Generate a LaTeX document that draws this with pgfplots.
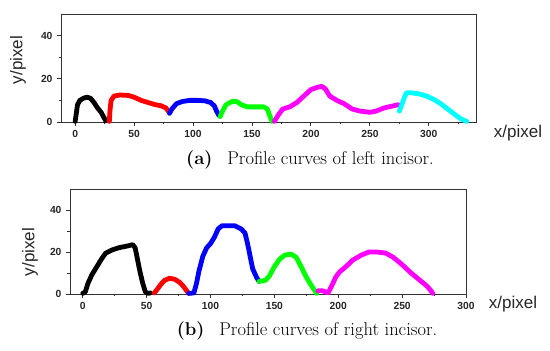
\documentclass[border=0pt]{standalone}
\usepackage{fontspec}
\usepackage{pgfplots}
\pgfplotsset{compat=1.18}
\newfontfamily\arialf{Liberation Sans}
\definecolor{axgray}{HTML}{333333}
\definecolor{cgreen}{HTML}{00FF00}
\definecolor{cmag}{HTML}{FF00FF}
\definecolor{ccyan}{HTML}{00FFFF}
\definecolor{cblue}{HTML}{0000FF}
\definecolor{cred}{HTML}{FF0000}
\pgfplotsset{
  prof/.style={
    scale only axis,
    anchor=south west,
    ymin=0, ymax=50,
    ytick={0,20,40},
    minor ytick={10,30},
    xtick={0,50,...,300},
    tick align=outside,
    xtick pos=bottom, ytick pos=left,
    major tick length=4pt, minor tick length=2.5pt,
    axis line style={axgray, line width=0.9pt},
    every tick/.style={axgray, line width=0.9pt},
    /pgf/number format/assume math mode=true,
    ticklabel style={font=\arialf\bfseries\fontsize{10.3}{11}\selectfont, text=black!85},
    xticklabel style={yshift=-0.5pt},
    yticklabel style={xshift=-1pt},
    clip=false,
  },
  curve/.style={line width=4.8pt, line join=round, line cap=round},
}
\begin{document}
\begin{tikzpicture}
\useasboundingbox (0,0) rectangle (550pt,351pt);
% ---------- top ----------
\begin{axis}[prof, at={(61pt,229pt)}, width=415pt, height=108pt,
  xmin=-12, xmax=340, minor xtick={25,75,...,325}]
\addplot[curve, black] coordinates {(0,0.3)(1,4)(2,8)(4,10)(7,11)(10,11.5)(13,11)(16,9)(19,6.5)(22,4.5)(24,2.5)(26,0.5)};
\addplot[curve, cred] coordinates {(29,0.3)(29.5,5)(30.5,10)(33,12)(38,12.5)(45,12.3)(50,11.5)(56,10)(62,9)(68,8)(73,7.5)(77,6.5)(79,5)};
\addplot[curve, cblue] coordinates {(80,4)(82,6)(86,8.5)(91,9.5)(97,10)(104,10)(110,9.8)(115,9)(118,7.5)(120,5)(122,3)};
\addplot[curve, cgreen] coordinates {(123,2.5)(125,5)(128,8)(133,9.5)(137,9.5)(141,8)(146,7)(152,7)(160,7)(163,6)(165,3)(167,0.3)};
\addplot[curve, cmag] coordinates {(169,0.3)(172,3)(176,6)(182,7)(188,9)(194,12)(200,15)(205,16)(209,16.5)(212,15.5)(216,12)(222,10)(228,8.5)(235,6)(242,5)(250,4.5)(255,5)(262,6.5)(270,7.5)(274,8)};
\addplot[curve, ccyan] coordinates {(275,5)(277,8)(279,11)(281,13.5)(285,13.5)(292,13)(298,12)(304,10.5)(310,8.5)(316,6)(322,3.5)(327,1.5)(332,0.3)};
\end{axis}
% ---------- bottom ----------
\begin{axis}[prof, at={(70pt,57pt)}, width=396pt, height=105pt,
  xmin=-10, xmax=300, minor xtick={25,75,...,275}]
\addplot[curve, black] coordinates {(0,0.3)(2,1)(4,5)(7,9)(11,13)(15,17)(18,19.5)(23,21)(28,22)(32,22.5)(36,23)(39,23.5)(41,22)(43,16)(45,10)(47,5)(49,1)(51,0.3)(53,0.5)};
\addplot[curve, cred] coordinates {(56,0.5)(58,2)(61,4.5)(64,6.5)(68,7.5)(72,7)(76,5.5)(79,3.5)(82,1)(83,0.3)};
\addplot[curve, cblue] coordinates {(83,0.3)(87,0.5)(89,5)(91,11)(94,18)(97,22)(100,24)(103,27)(106,31)(109,32.5)(114,32.5)(119,32.5)(124,31)(127,29)(129,24)(131,18)(133,12)(136,8)(138,6)};
\addplot[curve, cgreen] coordinates {(138,6)(143,6.5)(146,8.5)(150,13)(154,16.5)(158,18.5)(163,19)(167,17.5)(171,13)(175,8)(179,4)(183,0.3)};
\addplot[curve, cmag] coordinates {(184,1.5)(188,1.5)(192,0.5)(195,4)(198,8)(201,10.5)(206,13)(211,16)(218,18.5)(224,20)(230,20)(237,19.5)(243,17.5)(250,14)(257,10)(264,6.5)(269,4)(272,2)(274,0.3)};
\end{axis}
% ---------- labels ----------
\node[rotate=90, font=\arialf\fontsize{17}{18}\selectfont, text=black!85] at (18pt,291pt) {y/pixel};
\node[rotate=90, font=\arialf\fontsize{17}{18}\selectfont, text=black!85] at (30pt,99pt) {y/pixel};
\node[font=\arialf\fontsize{17}{18}\selectfont, text=black!85] at (518pt,218pt) {x/pixel};
\node[font=\arialf\fontsize{17}{18}\selectfont, text=black!85] at (513pt,47pt) {x/pixel};
\node[font=\fontsize{18.5}{19}\selectfont] at (310pt,191pt) {\textbf{(a)}\hspace{0.8em}Profile curves of left incisor.};
\node[font=\fontsize{18.5}{19}\selectfont] at (307pt,20pt) {\textbf{(b)}\hspace{0.8em}Profile curves of right incisor.};
\end{tikzpicture}
\end{document}
